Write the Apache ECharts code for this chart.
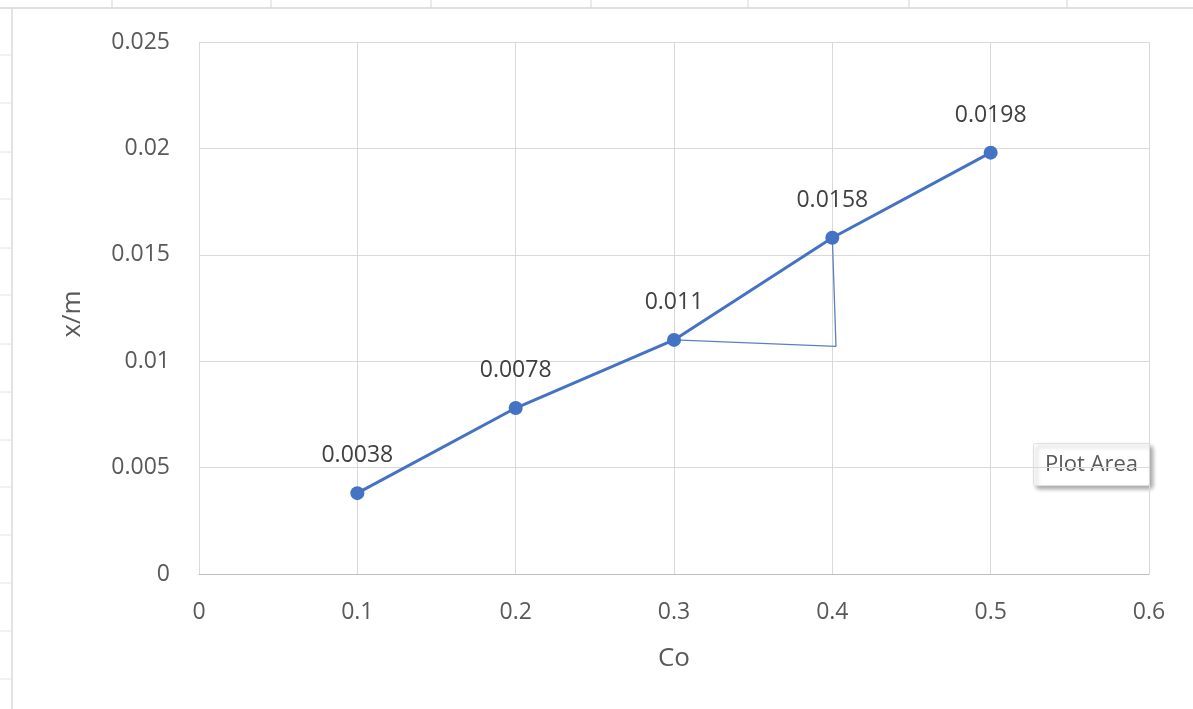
<!DOCTYPE html>
<html><head><meta charset="utf-8">
<script src="https://cdn.jsdelivr.net/npm/echarts@6/dist/echarts.min.js"></script>
<style>html,body{margin:0;padding:0;background:#fff;}#c{width:1193px;height:709px;}</style>
</head><body><div id="c"></div>
<script>
const xValues = [0.1, 0.2, 0.3, 0.4, 0.5];
const yValues = [0.0038, 0.0078, 0.011, 0.0158, 0.0198];
const labels = ['0.0038', '0.0078', '0.011', '0.0158', '0.0198'];
const triangleX = [0.3, 0.4023, 0.4];
const triangleY = [0.011, 0.0107, 0.0158];
const xTickLabels = ['0', '0.1', '0.2', '0.3', '0.4', '0.5', '0.6'];
const yTickLabels = ['0', '0.005', '0.01', '0.015', '0.02', '0.025'];

const chart = echarts.init(document.getElementById('c'), null, {renderer: 'canvas'});
const font = '"Segoe UI", "Open Sans", "DejaVu Sans", sans-serif';

const sheetLines = [
  {type: 'line', shape: {x1: 0, y1: 8, x2: 1193, y2: 8}, style: {stroke: '#d6d6d6', lineWidth: 1.5}, silent: true},
  {type: 'line', shape: {x1: 12, y1: 8, x2: 12, y2: 709}, style: {stroke: '#dadada', lineWidth: 1.5}, silent: true}
];
[112, 271, 431, 591, 748, 909, 1067].forEach(x => sheetLines.push(
  {type: 'line', shape: {x1: x, y1: 0, x2: x, y2: 8}, style: {stroke: '#d6d6d6', lineWidth: 1}, silent: true}));
[55, 103, 152, 199, 248, 295, 344, 392, 440, 487, 535, 583, 631, 679].forEach(y => sheetLines.push(
  {type: 'line', shape: {x1: 0, y1: y, x2: 12, y2: y}, style: {stroke: '#e2e2e2', lineWidth: 1}, silent: true}));

chart.setOption({
  animation: false,
  textStyle: {fontFamily: font},
  grid: {left: 199, right: 44, top: 42, bottom: 135, containLabel: false},
  xAxis: {
    type: 'value', min: 0, max: 0.6, interval: 0.1,
    name: 'Co', nameLocation: 'middle', nameGap: 72,
    nameTextStyle: {fontSize: 26, color: '#595959', fontFamily: font},
    axisLine: {show: true, lineStyle: {color: '#bfbfbf', width: 1}},
    axisTick: {show: false},
    splitLine: {show: true, lineStyle: {color: '#d9d9d9', width: 1}},
    axisLabel: {fontSize: 23, color: '#595959', margin: 27,
      formatter: v => xTickLabels[Math.round(v * 10)]}
  },
  yAxis: {
    type: 'value', min: 0, max: 0.025, interval: 0.005,
    name: 'x/m', nameLocation: 'middle', nameGap: 113, nameRotate: 90,
    nameTextStyle: {fontSize: 26, color: '#595959', fontFamily: font, padding: [0, 12, 0, 0]},
    axisLine: {show: false},
    axisTick: {show: false},
    splitLine: {show: true, lineStyle: {color: '#d9d9d9', width: 1}},
    axisLabel: {fontSize: 23, color: '#595959', margin: 29,
      formatter: v => yTickLabels[Math.round(v / 0.005)]}
  },
  series: [
    {
      type: 'line',
      data: triangleX.map((x, i) => [x, triangleY[i]]),
      showSymbol: false, symbol: 'none',
      lineStyle: {color: '#5b7fc4', width: 1.3},
      z: 1, silent: true
    },
    {
      type: 'line',
      data: xValues.map((x, i) => [x, yValues[i]]),
      symbol: 'circle', symbolSize: 14,
      itemStyle: {color: '#4472c4'},
      lineStyle: {color: '#4472c4', width: 3},
      label: {show: true, position: 'top', distance: 19, fontSize: 23, color: '#404040',
        formatter: p => labels[p.dataIndex]},
      z: 3
    }
  ],
  graphic: sheetLines.concat([
    {type: 'group', left: 1033, top: 443, children: [
      {type: 'rect', shape: {x: 0, y: 0, width: 116, height: 42, r: 2},
        style: {fill: '#ffffff', stroke: '#e0e0e0', lineWidth: 1, shadowBlur: 4, shadowOffsetX: 3, shadowOffsetY: 3, shadowColor: 'rgba(0,0,0,0.35)'}},
      {type: 'text', x: 58, y: 21, style: {text: 'Plot Area', fontSize: 22, fill: '#595959', align: 'center', verticalAlign: 'middle', fontFamily: font}}
    ]}
  ])
});
</script></body></html>
